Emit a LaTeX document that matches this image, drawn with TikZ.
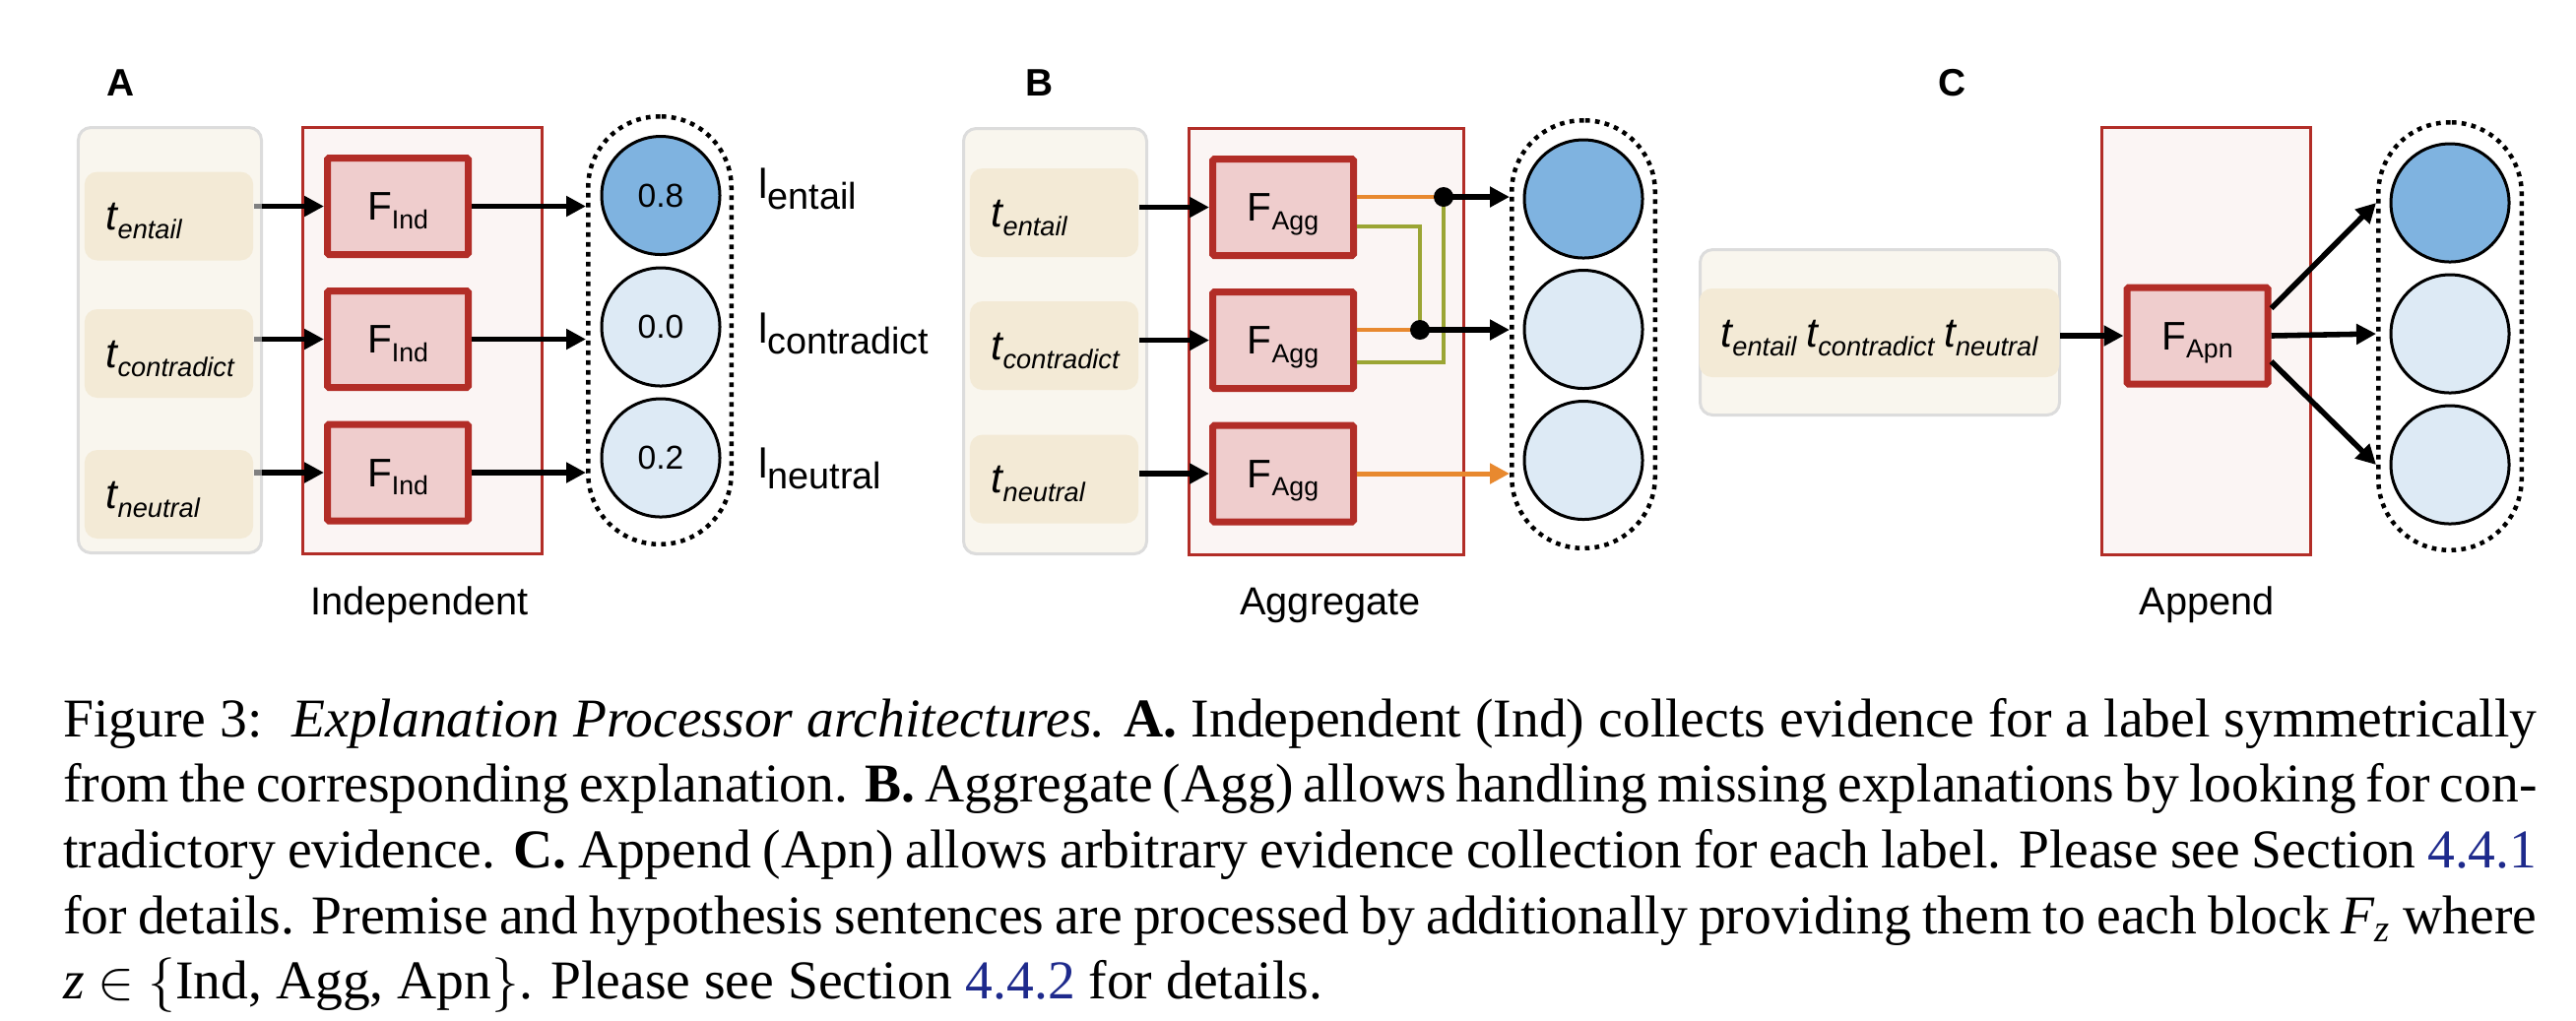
\documentclass[tikz,border=0pt]{standalone}
\usepackage{fontspec}
\setmainfont{Liberation Serif}
\newfontfamily\helv{Liberation Sans}
\usetikzlibrary{arrows.meta,positioning}

\definecolor{inback}{HTML}{F9F6EE}
\definecolor{inline}{HTML}{DCDCDC}
\definecolor{tback}{HTML}{F3EAD6}
\definecolor{redline}{HTML}{B22D27}
\definecolor{redback}{HTML}{FBF5F4}
\definecolor{fback}{HTML}{EFCDCD}
\definecolor{bluehi}{HTML}{7FB3E0}
\definecolor{bluelo}{HTML}{DDEAF5}
\definecolor{orng}{HTML}{E8892F}
\definecolor{olv}{HTML}{9BA534}
\definecolor{linkblue}{HTML}{1E2A8C}

\newcommand{\fsub}[2]{{\fontsize{7.3}{8}\selectfont #1}\raisebox{-1.45pt}{\fontsize{4.8}{5}\selectfont #2}}
\newcommand{\tsub}[1]{{\fontsize{7.6}{8}\selectfont\itshape t}\raisebox{-1.6pt}{\fontsize{4.9}{5}\selectfont\itshape #1}}
\newcommand{\tlab}[1]{\makebox[22.9pt][l]{\tsub{#1}}}
\newcommand{\lsub}[1]{{\fontsize{7.6}{8}\selectfont l}\raisebox{-2.1pt}{\fontsize{6.8}{7}\selectfont #1}}

\begin{document}
\begin{tikzpicture}[x=0.18pt,y=-0.18pt,font=\helv]
    \tikzset{inbox/.style={draw=inline, fill=inback, line width=0.54pt, rounded corners=2.3pt, minimum width=33.48pt, minimum height=77.76pt, inner sep=0pt},
        tbox/.style={fill=tback, rounded corners=2.3pt, minimum width=30.78pt, minimum height=16.2pt, inner xsep=3.96pt, inner ysep=0pt, text height=5.8pt, text depth=0.6pt},
        redbox/.style={draw=redline, fill=redback, line width=0.54pt, minimum height=77.94pt, inner sep=0pt},
        fbox/.style={draw=redline, fill=fback, line width=1.26pt, rounded corners=0.3pt, minimum width=25.74pt, minimum height=17.64pt, inner sep=0pt, text height=5.8pt, text depth=0.6pt},
        lblbox/.style={draw, line width=0.81pt, dash pattern=on 0.85pt off 0.95pt, rounded corners=13pt, minimum width=26.19pt, minimum height=78.21pt, inner sep=0pt},
        lbl/.style={circle, draw, line width=0.54pt, minimum size=21.6pt, inner sep=0pt, font=\helv\fontsize{6.05}{7}\selectfont},
        dot/.style={circle, fill=black, minimum size=3.6pt, inner sep=0pt},
        arr/.style={line width=1pt, -{Triangle[length=3.6pt,width=3.6pt]}},
        stub/.style={line width=1pt, draw=gray},
        orln/.style={line width=0.65pt, draw=orng},
        grln/.style={line width=0.65pt, draw=olv},
        orarr/.style={line width=0.9pt, draw=orng, -{Triangle[length=3.6pt,width=3.6pt]}},
        ttl/.style={anchor=base, inner sep=0pt, font=\helv\fontsize{7.15}{8}\selectfont},
        panel/.style={anchor=base, inner sep=0pt, font=\helv\bfseries\fontsize{7}{8}\selectfont}}
    \useasboundingbox (0,0) rectangle (2616,1036);

    %A
    \node[panel] (pA) at (123,97) {A};
    \node[inbox] (inA) at (172.5,345.5) {};
    \node[tbox] (tA1) at (171.5,219.5) {\tlab{entail}};
    \node[tbox] (tA2) at (171.5,359) {\tlab{contradict}};
    \node[tbox] (tA3) at (171.5,502) {\tlab{neutral}};
    \node[redbox, minimum width=43.74pt] (redA) at (429,346) {};
    \node[fbox] (FA1) at (404,209.5) {\fsub{F}{Ind}};
    \node[fbox] (FA2) at (404,344.5) {\fsub{F}{Ind}};
    \node[fbox] (FA3) at (404,480) {\fsub{F}{Ind}};
    \node[lblbox] (lblA) at (670,335.5) {};
    \node[lbl, fill=bluehi] (cA1) at (671,198.5) {0.8};
    \node[lbl, fill=bluelo] (cA2) at (671,332) {0.0};
    \node[lbl, fill=bluelo] (cA3) at (671,465) {0.2};
    \node[anchor=base west, inner sep=0pt] (lA1) at (769,201) {\lsub{entail}};
    \node[anchor=base west, inner sep=0pt] (lA2) at (769,348) {\lsub{contradict}};
    \node[anchor=base west, inner sep=0pt] (lA3) at (769,485) {\lsub{neutral}};
    \foreach \i in {1,2,3}{
        \draw[arr] (FA\i.west -| tA\i.east) -- (FA\i.west);
        \draw[stub] (FA\i.west -| tA\i.east) -- ++(8,0);
        \draw[arr] (FA\i.east) -- (FA\i.east -| lblA.west);
    }
    \node[ttl] (ttA) at (426,624) {Independent};

    %B
    \node[panel] (pB) at (1056,97) {B};
    \node[inbox] (inB) at (1071.5,346.5) {};
    \node[tbox] (tB1) at (1070.5,216) {\tlab{entail}};
    \node[tbox] (tB2) at (1070.5,351) {\tlab{contradict}};
    \node[tbox] (tB3) at (1070.5,486.5) {\tlab{neutral}};
    \node[redbox, minimum width=50.22pt] (redB) at (1347,347) {};
    \node[fbox] (FB1) at (1303,210.5) {\fsub{F}{Agg}};
    \node[fbox] (FB2) at (1303,345.5) {\fsub{F}{Agg}};
    \node[fbox] (FB3) at (1303,481) {\fsub{F}{Agg}};
    \node[lblbox] (lblB) at (1608,339.5) {};
    \node[lbl, fill=bluehi] (cB1) at (1608,202) {};
    \node[lbl, fill=bluelo] (cB2) at (1608,334.5) {};
    \node[lbl, fill=bluelo] (cB3) at (1608,467.5) {};
    \coordinate (jB1) at (1466,200);
    \coordinate (jB2) at (1442,335);
    \foreach \i in {1,2,3}
        \draw[arr] (FB\i.west -| tB\i.east) -- (FB\i.west);
    \draw[orln] ([yshift=1.9pt]FB1.east) -- (jB1);
    \draw[grln] ([yshift=-3.5pt]FB1.east) -| (jB2);
    \draw[orln] ([yshift=1.9pt]FB2.east) -- (jB2);
    \draw[grln] ([yshift=-4.05pt]FB2.east) -| (jB1);
    \draw[arr] (jB1) -- (jB1 -| lblB.west);
    \draw[arr] (jB2) -- (jB2 -| lblB.west);
    \draw[orarr] (FB3.east) -- (FB3.east -| lblB.west);
    \node[dot] (dB1) at (jB1) {};
    \node[dot] (dB2) at (jB2) {};
    \node[ttl] (ttB) at (1351,624) {Aggregate};

    %C
    \node[panel] (pC) at (1983,97) {C};
    \node[inbox, minimum width=65.7pt, minimum height=30.24pt] (inC) at (1909,337.5) {};
    \node[tbox, minimum width=64.62pt] (tC) at (1908.5,338) {\fontsize{6.5}{7}\selectfont\tsub{entail} \tsub{contradict} \tsub{neutral}};
    \node[redbox, minimum width=38.16pt, minimum height=78.12pt] (redC) at (2240.5,346.5) {};
    \node[fbox] (FC) at (2231.5,341) {\fsub{F}{Apn}};
    \node[lblbox] (lblC) at (2488,341.5) {};
    \node[lbl, fill=bluehi] (cC1) at (2488,206) {};
    \node[lbl, fill=bluelo] (cC2) at (2488,339) {};
    \node[lbl, fill=bluelo] (cC3) at (2488,472) {};
    \draw[arr] (FC.west -| tC.east) -- (FC.west);
    \draw[arr] ([yshift=5pt]FC.east) -- (lblC.west |- cC1);
    \draw[arr] (FC.east) -- (lblC.west |- cC2);
    \draw[arr] ([yshift=-4.7pt]FC.east) -- (lblC.west |- cC3);
    \node[ttl] (ttC) at (2241,624) {Append};

    %caption
    \node[anchor=north west, inner sep=0pt, text width=452.2pt, align=justify, font=\rmfamily\fontsize{10}{12}\selectfont] (capt) at (63,700.3)
        {\strut Figure 3:\hspace{0.2em} \textit{Explanation Processor architectures.} \textbf{A.} Independent (Ind) collects evidence for a label symmetrically\linebreak
        from the corresponding explanation. \textbf{B.} Aggregate (Agg) allows handling missing explanations by looking for con-\linebreak
        tradictory evidence. \textbf{C.} Append (Apn) allows arbitrary evidence collection for each label. Please see Section \textcolor{linkblue}{4.4.1}\linebreak
        for details. Premise and hypothesis sentences are processed by additionally providing them to each block \textit{F}\textsubscript{\textit{z}} where\linebreak
        \textit{z} $\in$ $\{$Ind, Agg, Apn$\}$. Please see Section \textcolor{linkblue}{4.4.2} for details.};
\end{tikzpicture}
\end{document}
